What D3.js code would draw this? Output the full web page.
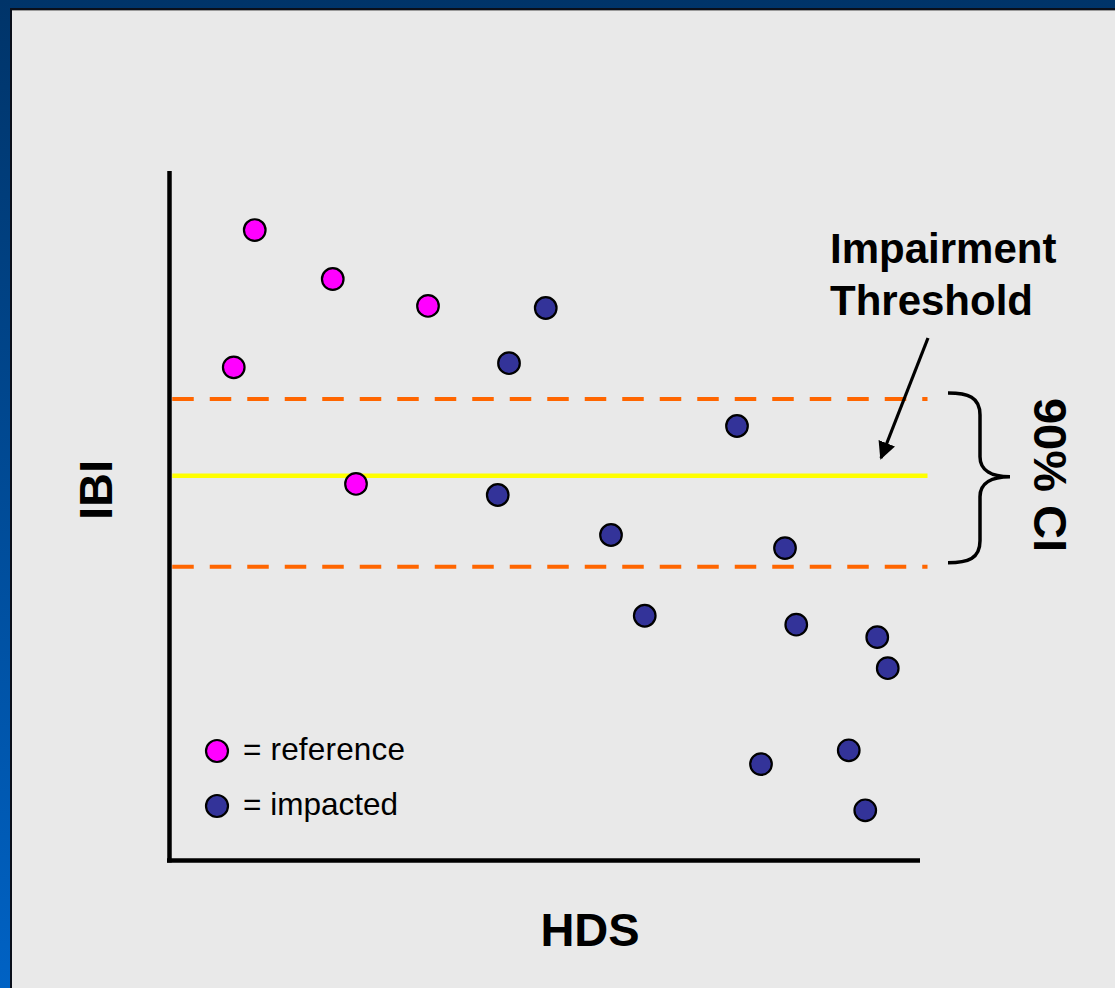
<!DOCTYPE html>
<html>
<head>
<meta charset="utf-8">
<script src="https://cdn.jsdelivr.net/npm/d3@7"></script>
<style>
  html, body { margin: 0; padding: 0; background: #003366; }
  svg { display: block; }
</style>
</head>
<body>
<svg id="chart" width="1115" height="988"></svg>
<script>
// ---- data (arbitrary HDS / IBI units) ----
const referenceHDS = [11.3, 21.7, 34.4, 8.5, 24.8];
const referenceIBI = [91.3, 84.2, 80.3, 71.4, 54.5];
const impactedHDS = [50.1, 45.2, 75.6, 43.7, 58.8, 82.0, 63.3, 83.5, 94.3, 95.7, 90.5, 78.8, 92.7];
const impactedIBI = [80.0, 72.0, 62.9, 52.9, 47.1, 45.2, 35.4, 34.1, 32.3, 27.8, 15.9, 13.9, 7.2];
const thresholdIBI = [55.7];
const ciIBI = [66.8, 42.5];
const lineExtentHDS = [0.3, 101];
const legendLabels = ["= reference", "= impacted"];
const axisTitles = ["HDS", "IBI"];
const annotationLines = ["Impairment", "Threshold"];
const ciLabel = "90% CI";

const W = 1115, H = 988;
const svg = d3.select("#chart");
const font = "'Liberation Sans', Arial, Helvetica, sans-serif";

// background gradient frame
const defs = svg.append("defs");
const grad = defs.append("linearGradient").attr("id", "bg").attr("x1", 0).attr("y1", 0).attr("x2", 0).attr("y2", 1);
grad.append("stop").attr("offset", "0%").attr("stop-color", "#003469");
grad.append("stop").attr("offset", "100%").attr("stop-color", "#0062c4");
svg.append("rect").attr("width", W).attr("height", H).attr("fill", "url(#bg)");
// shadow line + panel
svg.append("rect").attr("x", 10).attr("y", 8).attr("width", W - 10).attr("height", H - 8).attr("fill", "#0a0f1a");
svg.append("rect").attr("x", 12).attr("y", 10).attr("width", W - 12).attr("height", H - 10).attr("fill", "#9a9a9a");
svg.append("rect").attr("x", 12).attr("y", 11).attr("width", W - 12).attr("height", H - 11).attr("fill", "#e9e9e9");

// scales
const x = d3.scaleLinear().domain([0, 100]).range([170, 920]);
const y = d3.scaleLinear().domain([0, 100]).range([860, 170]);

// axes (plain lines, no ticks)
const xAxis = d3.axisBottom(x).tickValues([]).tickSizeOuter(0);
const yAxis = d3.axisLeft(y).tickValues([]).tickSizeOuter(0);
const gx = svg.append("g").attr("transform", `translate(0,${y(0) + 0.5})`).call(xAxis);
gx.select(".domain").attr("stroke", "#000").attr("stroke-width", 4.5)
  .attr("d", `M${x(0) - 3},0H${x(100)}`);
const gy = svg.append("g").attr("transform", `translate(${x(0) - 0.5},0)`).call(yAxis);
gy.select(".domain").attr("stroke", "#000").attr("stroke-width", 4.5)
  .attr("d", `M0,${y(100) + 1}V${y(0) + 2.5}`);

// CI dashed lines
svg.append("g").selectAll("line").data(ciIBI).join("line")
  .attr("x1", x(lineExtentHDS[0])).attr("x2", x(lineExtentHDS[1]))
  .attr("y1", d => y(d)).attr("y2", d => y(d))
  .attr("stroke", "#ff6600").attr("stroke-width", 4)
  .attr("stroke-dasharray", "21.5 16");

// threshold line
svg.append("g").selectAll("line").data(thresholdIBI).join("line")
  .attr("x1", x(lineExtentHDS[0])).attr("x2", x(lineExtentHDS[1]))
  .attr("y1", d => y(d)).attr("y2", d => y(d))
  .attr("stroke", "#ffff00").attr("stroke-width", 4.5);

// points
const refPts = referenceHDS.map((h, i) => ({ h, v: referenceIBI[i] }));
const impPts = impactedHDS.map((h, i) => ({ h, v: impactedIBI[i] }));
svg.append("g").selectAll("circle").data(refPts).join("circle")
  .attr("cx", d => x(d.h)).attr("cy", d => y(d.v)).attr("r", 10.8)
  .attr("fill", "#ff00ff").attr("stroke", "#000").attr("stroke-width", 2.2);
svg.append("g").selectAll("circle").data(impPts).join("circle")
  .attr("cx", d => x(d.h)).attr("cy", d => y(d.v)).attr("r", 10.8)
  .attr("fill", "#333399").attr("stroke", "#000").attr("stroke-width", 2.2);

// legend
const legendColors = ["#ff00ff", "#333399"];
const lg = svg.append("g");
legendLabels.forEach((lab, i) => {
  const cy = 751 + i * 55;
  lg.append("circle").attr("cx", 217).attr("cy", cy).attr("r", 11)
    .attr("fill", legendColors[i]).attr("stroke", "#000").attr("stroke-width", 2.2);
  lg.append("text").attr("x", 243).attr("y", cy + 9).text(lab)
    .attr("font-family", font).attr("font-size", 31.5).attr("fill", "#000")
    .attr("textLength", i === 0 ? 162 : null);
});

// axis titles
svg.append("text").attr("x", 590).attr("y", 946).attr("text-anchor", "middle")
  .attr("font-family", font).attr("font-weight", "bold").attr("font-size", 47)
  .text(axisTitles[0]);
svg.append("text").attr("transform", "translate(112,490) rotate(-90)").attr("text-anchor", "middle")
  .attr("font-family", font).attr("font-weight", "bold").attr("font-size", 47)
  .text(axisTitles[1]);

// annotation text
annotationLines.forEach((t, i) => {
  svg.append("text").attr("x", 830).attr("y", 263 + i * 52)
    .attr("font-family", font).attr("font-weight", "bold").attr("font-size", 42)
    .text(t);
});

// arrow
defs.append("marker").attr("id", "arrowhead").attr("viewBox", "0 0 10 10")
  .attr("refX", 9).attr("refY", 5).attr("markerWidth", 5.5).attr("markerHeight", 5.5)
  .attr("markerUnits", "strokeWidth").attr("orient", "auto")
  .append("path").attr("d", "M0,0L10,5L0,10z").attr("fill", "#000");
svg.append("line").attr("x1", 928).attr("y1", 338).attr("x2", 881).attr("y2", 458)
  .attr("stroke", "#000").attr("stroke-width", 3.2).attr("marker-end", "url(#arrowhead)");

// brace
const yt = y(ciIBI[0]) - 6, yb = y(ciIBI[1]) - 4, ym = y(thresholdIBI[0]) + 1;
const bracePath = `M948,${yt} C968,${yt} 980,${yt + 4} 980,${yt + 22}
  L980,${ym - 20} C980,${ym - 6} 992,${ym} 1010,${ym}
  C992,${ym} 980,${ym + 6} 980,${ym + 20}
  L980,${yb - 22} C980,${yb - 4} 968,${yb} 948,${yb}`;
svg.append("path").attr("d", bracePath).attr("fill", "none")
  .attr("stroke", "#000").attr("stroke-width", 3.5);

// CI label rotated
svg.append("text").attr("transform", "translate(1034,475) rotate(90)").attr("text-anchor", "middle")
  .attr("font-family", font).attr("font-weight", "bold").attr("font-size", 47)
  .text(ciLabel);
</script>
</body>
</html>
